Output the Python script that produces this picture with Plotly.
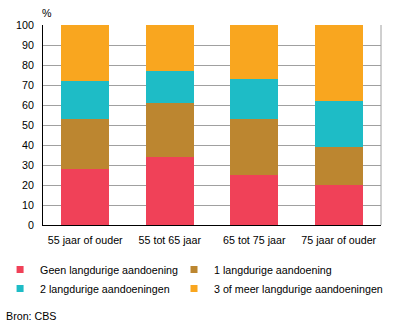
import plotly.graph_objects as go

categories = ["55 jaar of ouder", "55 tot 65 jaar", "65 tot 75 jaar", "75 jaar of ouder"]
series_names = ["Geen langdurige aandoening", "1 langdurige aandoening",
                "2 langdurige aandoeningen", "3 of meer langdurige aandoeningen"]
geen = [28, 34, 25, 20]
een = [25, 27, 28, 19]
twee = [19, 16, 20, 23]
drie = [28, 23, 27, 38]
colors = ["#F04158", "#BC8630", "#1EBCC6", "#F9A61F"]
legend_ids = ["legend", "legend2", "legend", "legend2"]
y_ticks = [0, 10, 20, 30, 40, 50, 60, 70, 80, 90, 100]

FONT = "Liberation Sans, Arial, sans-serif"
FS = 10.7
fig = go.Figure()
for name, vals, col, lg in zip(series_names, [geen, een, twee, drie], colors, legend_ids):
    fig.add_trace(go.Bar(x=categories, y=vals, name=name, marker=dict(color=col, line=dict(width=0)),
                         width=0.57, showlegend=False))
    # legend entry with a small square swatch, as in the reference
    fig.add_trace(go.Scatter(x=[None], y=[None], mode="markers", name=name, legend=lg,
                             marker=dict(symbol="square", size=7, color=col, line=dict(width=0)),
                             hoverinfo="skip"))

legend_common = dict(orientation="v", yanchor="top", y=-0.15, xanchor="left", traceorder="normal",
                     itemwidth=30, font=dict(size=FS, family=FONT), bgcolor="rgba(0,0,0,0)",
                     borderwidth=0)

fig.update_layout(
    barmode="stack",
    width=396, height=326,
    margin=dict(l=43, r=15, t=25, b=101, autoexpand=False),
    paper_bgcolor="white", plot_bgcolor="white",
    font=dict(family=FONT, size=FS, color="black"),
    showlegend=True,
    legend=dict(x=-0.127, **legend_common),
    legend2=dict(x=0.3876, **legend_common),
    xaxis=dict(showline=True, linecolor="black", linewidth=1, ticks="", tickfont=dict(size=FS),
               showgrid=False, automargin=False, ticklabelstandoff=5),
    yaxis=dict(range=[0, 100], tickvals=y_ticks, showline=True, linecolor="black", linewidth=1,
               showgrid=True, gridcolor="#A0A0A0", gridwidth=1, ticks="", ticklabelstandoff=6,
               zeroline=False, tickfont=dict(size=FS), automargin=False),
    annotations=[
        dict(text="%", x=0, xref="paper", y=1, yref="paper", xanchor="center", yanchor="bottom",
             xshift=4, yshift=4, showarrow=False, font=dict(size=FS)),
        dict(text="Bron: CBS", x=-0.115, xref="paper", y=-0.455, yref="paper", xanchor="left",
             yanchor="middle", showarrow=False, font=dict(size=FS)),
    ],
    shapes=[
        dict(type="line", xref="paper", yref="paper", x0=1, x1=1, y0=0, y1=1,
             line=dict(color="#A0A0A0", width=1)),
    ],
)

fig.write_html("out.html")
